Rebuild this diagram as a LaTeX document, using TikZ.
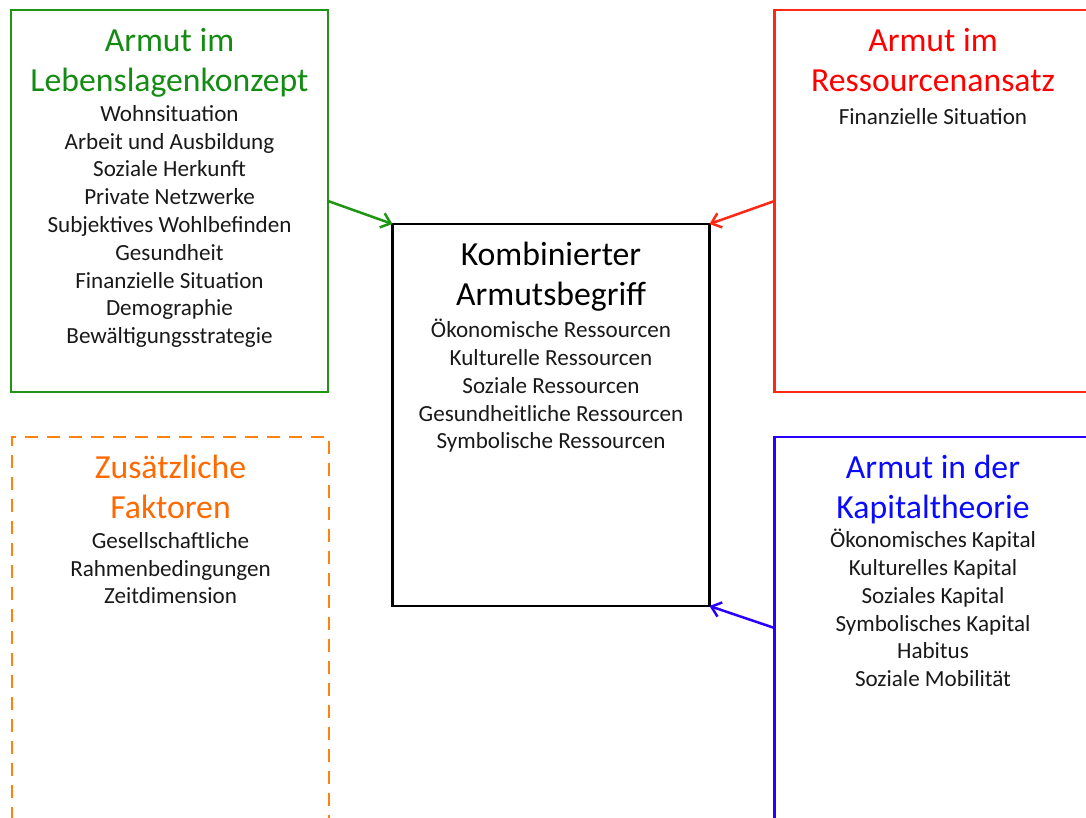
\documentclass[tikz,border=0pt]{standalone}
\usepackage{fontspec}
\setmainfont{Carlito}
\usetikzlibrary{arrows.meta}

\definecolor{gruen}{RGB}{30,150,20}
\definecolor{gruentext}{RGB}{20,140,20}
\definecolor{rot}{RGB}{255,40,20}
\definecolor{rottext}{RGB}{255,0,0}
\definecolor{orangerahmen}{RGB}{255,130,15}
\definecolor{orangetext}{RGB}{255,105,0}
\definecolor{blau}{RGB}{40,0,255}
\definecolor{blautext}{RGB}{10,10,255}

\begin{document}
\begin{tikzpicture}[
  x=1pt,
  y=-1pt,
  kasten/.style={draw, line width=2.8pt, minimum width=317pt, minimum height=382pt,
                 inner sep=0pt, outer sep=0pt},
  titel/.style={font=\fontsize{33.7}{40}\selectfont, align=center, inner sep=0pt,
                anchor=north, execute at begin node=\strut},
  liste/.style={font=\fontsize{23.1}{27.8}\selectfont, align=center, inner sep=0pt,
                anchor=north, text=black!90, execute at begin node=\strut},
  pfeil/.style={-{Straight Barb[length=9pt, width=15pt]}, line width=2.5pt},
]

% Rahmen des Bildes
\useasboundingbox (0,0) rectangle (1086,817);
\clip (0,0) rectangle (1086,817);

% die fuenf Kaesten
\node[kasten, gruen] (leben) at (169.5,201) {};
\node[kasten, rot] (ressource) at (933,201) {};
\node[kasten, orangerahmen, dash pattern=on 13pt off 9pt] (zusatz) at (170.5,628) {};
\node[kasten, blau] (kapital) at (933,628) {};
\node[kasten, black] (kombi) at (551,415) {};

% Lebenslagenkonzept
\node[titel, text=gruentext] (lebenTitel) at ([yshift=-18pt]leben.north)
  {Armut im\\Lebenslagenkonzept};
\node[liste] (lebenListe) at ([yshift=-95pt]leben.north)
  {Wohnsituation\\Arbeit und Ausbildung\\Soziale Herkunft\\Private Netzwerke\\
   Subjektives Wohlbefinden\\Gesundheit\\Finanzielle Situation\\Demographie\\
   Bewältigungsstrategie};

% Ressourcenansatz
\node[titel, text=rottext] (ressourceTitel) at ([yshift=-18pt]ressource.north)
  {Armut im\\Ressourcenansatz};
\node[liste] (ressourceListe) at ([yshift=-95pt]ressource.north)
  {Finanzielle Situation};

% zusaetzliche Faktoren
\node[titel, text=orangetext] (zusatzTitel) at ([yshift=-18pt]zusatz.north)
  {Zusätzliche\\Faktoren};
\node[liste] (zusatzListe) at ([yshift=-95pt]zusatz.north)
  {Gesellschaftliche\\Rahmenbedingungen\\Zeitdimension};

% Kapitaltheorie
\node[titel, text=blautext] (kapitalTitel) at ([yshift=-18pt]kapital.north)
  {Armut in der\\Kapitaltheorie};
\node[liste] (kapitalListe) at ([yshift=-92pt]kapital.north)
  {Ökonomisches Kapital\\Kulturelles Kapital\\Soziales Kapital\\
   Symbolisches Kapital\\Habitus\\Soziale Mobilität};

% kombinierter Begriff
\node[titel] (kombiTitel) at ([yshift=-18pt]kombi.north)
  {Kombinierter\\Armutsbegriff};
\node[liste] (kombiListe) at ([yshift=-95pt]kombi.north)
  {Ökonomische Ressourcen\\Kulturelle Ressourcen\\Soziale Ressourcen\\
   Gesundheitliche Ressourcen\\Symbolische Ressourcen};

% Pfeile
\draw[pfeil, gruen] (leben.east) -- (kombi.north west);
\draw[pfeil, rot] (ressource.west) -- (kombi.north east);
\draw[pfeil, blau] (kapital.west) -- (kombi.south east);

\end{tikzpicture}
\end{document}
